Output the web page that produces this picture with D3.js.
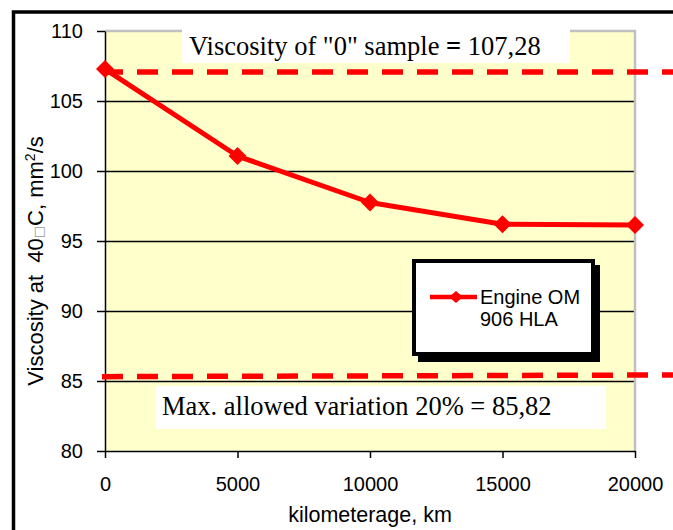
<!DOCTYPE html>
<html>
<head>
<meta charset="utf-8">
<script src="https://cdn.jsdelivr.net/npm/d3@7"></script>
<style>
  body { margin: 0; background: #fff; }
  svg { display: block; }
</style>
</head>
<body>
<div id="chart"></div>
<script>
// kilometerage (km) and measured viscosity at 40 C (mm2/s)
const km = [0, 5000, 10000, 15000, 20000];
const viscosity = [107.28, 101.07, 97.75, 96.2, 96.15];
const seriesName = ["Engine OM", "906 HLA"];

const yTicks = [80, 85, 90, 95, 100, 105, 110];
const xTicks = [0, 5000, 10000, 15000, 20000];

// hand drawn reference lines (value at left end, value at right end)
const zeroSampleLine = [107.07, 107.07];
const maxVariationLine = [85.31, 85.43];
const zeroSampleLabel = ["Viscosity of \"0\" sample ", "=", " 107,28"];
const maxVariationLabel = "Max. allowed variation 20% = 85,82";

const width = 673;
const height = 530;
const marginTop = 31;
const marginRight = 37;
const marginBottom = 79;
const marginLeft = 105;

const sans = "'Liberation Sans', Arial, sans-serif";
const serif = "'Liberation Serif', 'Times New Roman', serif";
const red = "#ff0000";

const x = d3.scaleLinear()
    .domain([0, 20000])
    .range([marginLeft, width - marginRight - 1]);

const y = d3.scaleLinear()
    .domain([80, 110])
    .range([height - marginBottom, marginTop]);

const svg = d3.select("#chart")
    .append("svg")
    .attr("width", width)
    .attr("height", height)
    .attr("viewBox", [0, 0, width, height]);

// outer frame
svg.append("path")
    .attr("d", `M13.5,${height + 5}V12H${width + 5}`)
    .attr("fill", "none")
    .attr("stroke", "#000")
    .attr("stroke-width", 3.5);

// plot area
svg.append("rect")
    .attr("x", x(0))
    .attr("y", y(110))
    .attr("width", x(20000) - x(0))
    .attr("height", y(80) - y(110))
    .attr("fill", "#ffffcc");

// gridlines
svg.append("g")
    .selectAll("line")
    .data(yTicks.filter(d => d > 80 && d < 110))
    .join("line")
    .attr("x1", x(0))
    .attr("x2", x(20000))
    .attr("y1", d => Math.round(y(d)) + 0.5)
    .attr("y2", d => Math.round(y(d)) + 0.5)
    .attr("stroke", "#000")
    .attr("stroke-width", 1.3);

// grey top / right border of the plot area
svg.append("path")
    .attr("d", `M${x(0)},${y(110)}H${x(20000)}V${y(80)}`)
    .attr("fill", "none")
    .attr("stroke", "#c0c0c0")
    .attr("stroke-width", 2.5);

// y axis
svg.append("g")
    .attr("transform", `translate(${x(0)},0)`)
    .call(d3.axisLeft(y).tickValues(yTicks).tickSize(8).tickSizeOuter(0).tickPadding(14))
    .call(g => g.select(".domain").attr("stroke-width", 1.5))
    .call(g => g.selectAll(".tick line").attr("stroke-width", 1.5))
    .call(g => g.selectAll("text")
        .attr("font-family", sans)
        .attr("font-size", 20)
        .attr("fill", "#000"));

// x axis
svg.append("g")
    .attr("transform", `translate(0,${y(80)})`)
    .call(d3.axisBottom(x).tickValues(xTicks).tickFormat(d3.format("d")).tickSize(7).tickSizeOuter(0).tickPadding(19))
    .call(g => g.select(".domain").attr("stroke-width", 1.5))
    .call(g => g.selectAll(".tick line").attr("stroke-width", 1.5))
    .call(g => g.selectAll("text")
        .attr("font-family", sans)
        .attr("font-size", 20)
        .attr("fill", "#000"));

// axis titles
svg.append("text")
    .attr("x", (x(0) + x(20000)) / 2)
    .attr("y", 522)
    .attr("text-anchor", "middle")
    .attr("font-family", sans)
    .attr("font-size", 21.5)
    .text("kilometerage, km");

const yTitle = svg.append("text")
    .attr("transform", "translate(43,261) rotate(-90)")
    .attr("text-anchor", "middle")
    .attr("font-family", sans)
    .attr("font-size", 22)
    .style("white-space", "pre");
yTitle.append("tspan").text("Viscosity at  40");
yTitle.append("tspan")
    .attr("font-family", "'DejaVu Sans', sans-serif")
    .attr("font-size", 13)
    .attr("fill", "#999")
    .text("\u25A1");
yTitle.append("tspan").text("C, mm");
yTitle.append("tspan").attr("font-size", 14).attr("dy", -8).text("2");
yTitle.append("tspan").attr("dy", 8).text("/s");

// series
const points = km.map((k, i) => ({ km: k, v: viscosity[i] }));

svg.append("path")
    .datum(points)
    .attr("fill", "none")
    .attr("stroke", red)
    .attr("stroke-width", 5)
    .attr("stroke-linejoin", "round")
    .attr("d", d3.line().x(d => x(d.km)).y(d => y(d.v)));

svg.append("g")
    .attr("fill", red)
    .selectAll("path")
    .data(points)
    .join("path")
    .attr("transform", d => `translate(${x(d.km)},${y(d.v)})`)
    .attr("d", "M0,-9L9,0L0,9L-9,0Z");

// label boxes
const topBox = svg.append("g");
topBox.append("rect")
    .attr("x", 182).attr("y", 24).attr("width", 388).attr("height", 39)
    .attr("fill", "#fff");
const topText = topBox.append("text")
    .attr("x", 189)
    .attr("y", 55)
    .attr("font-family", serif)
    .attr("font-size", 26.5)
    .style("white-space", "pre");
topText.append("tspan").text(zeroSampleLabel[0]);
topText.append("tspan").attr("font-weight", "bold").text(zeroSampleLabel[1]);
topText.append("tspan").text(zeroSampleLabel[2]);

const bottomBox = svg.append("g");
bottomBox.append("rect")
    .attr("x", 156).attr("y", 386).attr("width", 450).attr("height", 43)
    .attr("fill", "#fff");
bottomBox.append("text")
    .attr("x", 162)
    .attr("y", 415)
    .attr("font-family", serif)
    .attr("font-size", 26.5)
    .text(maxVariationLabel);

// dashed reference lines, running past the plot to the page edge
const xEnd = x.invert(width + 2);
[zeroSampleLine, maxVariationLine].forEach(v => {
    svg.append("line")
        .attr("x1", x(0) - 3)
        .attr("x2", x(xEnd))
        .attr("y1", y(v[0]))
        .attr("y2", y(v[1]))
        .attr("stroke", red)
        .attr("stroke-width", 5.5)
        .attr("stroke-dasharray", "21,14");
});

// legend
const legend = svg.append("g");
legend.append("rect")
    .attr("x", 418).attr("y", 265).attr("width", 182).attr("height", 97)
    .attr("fill", "#000");
legend.append("rect")
    .attr("x", 414).attr("y", 261).attr("width", 179).attr("height", 93)
    .attr("fill", "#fff")
    .attr("stroke", "#000")
    .attr("stroke-width", 4);
legend.append("line")
    .attr("x1", 430).attr("x2", 477)
    .attr("y1", 297).attr("y2", 297)
    .attr("stroke", red)
    .attr("stroke-width", 4.5);
legend.append("path")
    .attr("transform", "translate(456,297)")
    .attr("d", "M0,-6L7,0L0,6L-7,0Z")
    .attr("fill", red);
legend.append("text")
    .attr("font-family", sans)
    .attr("font-size", 20)
    .selectAll("tspan")
    .data(seriesName)
    .join("tspan")
    .attr("x", 480)
    .attr("y", (d, i) => 304 + i * 22)
    .text(d => d);
</script>
</body>
</html>
